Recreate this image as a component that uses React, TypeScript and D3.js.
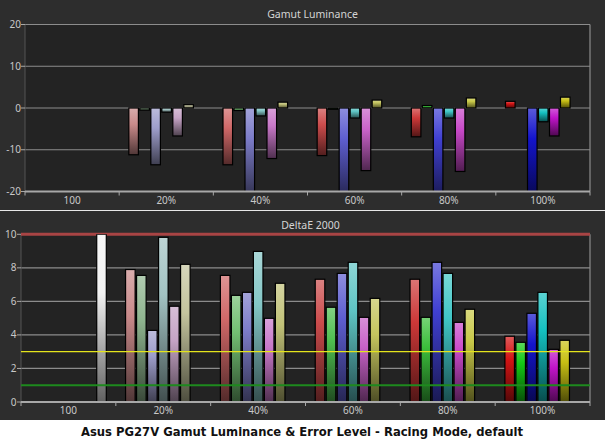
import React from 'react';
import * as d3 from 'd3';

const groups = ['100', '20%', '40%', '60%', '80%', '100%'];
const channels = ['R', 'G', 'B', 'C', 'M', 'Y', 'W'];
const rgbcmy = ['R', 'G', 'B', 'C', 'M', 'Y'];

// Gamut Luminance error per group (R G B C M Y), white only for "100"
const lum100 = [0];
const lum20 = [-11.2, -0.5, -13.6, -1.0, -6.7, 0.8];
const lum40 = [-13.6, -0.6, -21, -1.9, -12.1, 1.4];
const lum60 = [-11.4, -0.3, -21, -2.4, -15.0, 1.9];
const lum80 = [-6.9, 0.6, -21, -2.4, -15.2, 2.4];
const lum100p = [1.6, 0, -21, -3.3, -6.7, 2.6];

// DeltaE 2000 per group
const de100 = [10];
const de20 = [7.9, 7.55, 4.27, 9.82, 5.71, 8.21];
const de40 = [7.55, 6.36, 6.54, 8.98, 4.99, 7.08];
const de60 = [7.32, 5.65, 7.67, 8.33, 5.05, 6.18];
const de80 = [7.32, 5.05, 8.33, 7.67, 4.75, 5.53];
const de100p = [3.92, 3.56, 5.29, 6.54, 3.14, 3.68];

// measured bar colours per group
const col100 = ['#f2f2f2'];
const col20 = ['#c98a8a', '#8fb58f', '#9e9ecb', '#a2c3c3', '#c6a4c6', '#c4c49e'];
const col40 = ['#d06868', '#72be72', '#7c7cc8', '#84c6c6', '#c878c8', '#c2c278'];
const col60 = ['#cc4c4c', '#4fbe4f', '#5e5ed0', '#5ec4c4', '#c862c8', '#c4c45e'];
const col80 = ['#cc3838', '#3cbf3c', '#4040d2', '#40c6c6', '#c848c8', '#c8c848'];
const col100p = ['#d41414', '#14c814', '#1414cc', '#14c0c0', '#c014c8', '#c8c014'];

const lumTicks = [20, 10, 0, -10, -20];
const deTicks = [0, 2, 4, 6, 8, 10];

interface Row { group: string; channel: string; value: number; color: string; }

const buildRows = (vals: number[][], cols: string[][]): Row[] =>
  groups.flatMap((g, gi) => {
    const chs = gi === 0 ? ['W'] : rgbcmy;
    return chs.map((c, ci) => ({ group: g, channel: c, value: vals[gi][ci], color: cols[gi][ci] }));
  });

const colorSets = [col100, col20, col40, col60, col80, col100p];
const lumRows = buildRows([lum100, lum20, lum40, lum60, lum80, lum100p], colorSets);
const deRows = buildRows([de100, de20, de40, de60, de80, de100p], colorSets);

const allColors = Array.from(new Set(colorSets.flat()));
const gradId = (c: string) => 'grad-' + c.slice(1);

const FONT = '"Noto Sans", "Open Sans", sans-serif';
const TXT = '#c8c8c8';
const GRID = '#8c8c8c';

interface PanelProps {
  id: string;
  title: string;
  rows: Row[];
  left: number;
  right: number;
  top: number;
  bottom: number;
  domain: [number, number];
  ticks: number[];
  gridVals: number[];
  titleY: number;
  labelX: number;
  labelY: number;
  children?: (y: d3.ScaleLinear<number, number>) => React.ReactNode;
  overlay?: (y: d3.ScaleLinear<number, number>) => React.ReactNode;
}

const Panel = ({ id, title, rows, left, right, top, bottom, domain, ticks, gridVals, titleY, labelX, labelY, children, overlay }: PanelProps) => {
  const x = d3.scaleBand().domain(groups).range([left, right]);
  const y = d3.scaleLinear().domain(domain).range([bottom, top]);
  const bw = x.bandwidth();
  const inner = d3.scaleBand().domain(channels)
    .range([bw * 0.095, bw * 0.095 + 77])
    .paddingInner(0.13).paddingOuter(0.065);
  const bounds = [...groups.map(g => x(g)!), right];
  return (
    <g>
      <defs>
        <clipPath id={id + '-clip'}>
          <rect x={left} y={top} width={right - left} height={bottom - top} />
        </clipPath>
      </defs>
      <rect x={left} y={top} width={right - left} height={bottom - top} fill="#232323" />
      <text x={(left + right) / 2 + 5} y={titleY} textAnchor="middle" fill="#d4d4d4"
        style={{ font: `10.5px ${FONT}` }}>{title}</text>
      {gridVals.map(v => (
        <line key={v} x1={left} x2={right} y1={y(v)} y2={y(v)} stroke={GRID} strokeWidth={1.2} />
      ))}
      <line x1={right} x2={right} y1={top} y2={bottom} stroke={GRID} strokeWidth={1.2} />
      <line x1={left} x2={left} y1={top} y2={bottom} stroke="#555" strokeWidth={1} />
      {children && children(y)}
      <g clipPath={`url(#${id}-clip)`}>
        {rows.filter(r => r.value !== 0).map(r => {
          const y0 = y(0), y1 = y(r.value);
          return (
            <rect key={r.group + r.channel}
              x={x(r.group)! + inner(r.channel)!}
              y={Math.min(y0, y1)}
              width={inner.bandwidth()}
              height={Math.abs(y1 - y0)}
              fill={`url(#${gradId(r.color)})`}
              stroke="#000" strokeWidth={1.2} />
          );
        })}
      </g>
      {overlay && overlay(y)}
      <line x1={left} x2={right} y1={bottom} y2={bottom} stroke="#a8a8a8" strokeWidth={2} />
      {bounds.map((b, i) => (
        <line key={i} x1={b} x2={b} y1={bottom} y2={bottom + 4} stroke="#a8a8a8" strokeWidth={1} />
      ))}
      {groups.map(g => (
        <text key={g} x={x(g)! + bw / 2} y={labelY} textAnchor="middle" fill={TXT}
          style={{ font: `10px ${FONT}` }}>{g}</text>
      ))}
      {ticks.map(t => (
        <g key={t}>
          <line x1={left - 4} x2={left} y1={y(t)} y2={y(t)} stroke="#a8a8a8" strokeWidth={1} />
          <text x={labelX} y={y(t)} dy="0.35em" textAnchor="end" fill={TXT}
            style={{ font: `10px ${FONT}` }}>{t}</text>
        </g>
      ))}
    </g>
  );
};

export default function App() {
  return (
    <svg width={605} height={441} style={{ position: 'absolute', left: 0, top: 0 }}>
      <defs>
        {allColors.map(c => (
          <linearGradient key={c} id={gradId(c)} x1="0" y1="0" x2="0" y2="1">
            <stop offset="0" stopColor={d3.interpolateRgb(c, '#ffffff')(0.3)} />
            <stop offset="0.35" stopColor={c} />
            <stop offset="1" stopColor={d3.interpolateRgb(c, '#000000')(0.6)} />
          </linearGradient>
        ))}
      </defs>
      <rect x={0} y={0} width={605} height={420} fill="#2d2d2d" />
      <rect x={0} y={420} width={605} height={21} fill="#ffffff" />

      <Panel id="lum" title="Gamut Luminance" rows={lumRows}
        left={25} right={590} top={24.5} bottom={191.5}
        domain={[-20, 20]} ticks={lumTicks} gridVals={[20, 10, 0, -10]}
        titleY={18} labelX={21} labelY={203.5} />

      <line x1={0} x2={605} y1={210.5} y2={210.5} stroke="#e8e8e8" strokeWidth={1.2} />

      <Panel id="de" title="DeltaE 2000" rows={deRows}
        left={21} right={590} top={234.3} bottom={402}
        domain={[0, 10]} ticks={deTicks} gridVals={[2, 4, 6, 8]}
        titleY={229} labelX={16.5} labelY={414}
        children={y => (
          <line x1={21} x2={590} y1={y(10)} y2={y(10)} stroke="#a84444" strokeWidth={3} />
        )}
        overlay={y => (
          <g>
            <line x1={21} x2={590} y1={y(3)} y2={y(3)} stroke="#e4e41c" strokeWidth={1.3} />
            <line x1={21} x2={590} y1={y(1)} y2={y(1)} stroke="#1e8a1e" strokeWidth={2} />
          </g>
        )} />

      <text x={302} y={435.5} textAnchor="middle" fill="#111"
        style={{ font: `bold 11.6px "DejaVu Sans", Verdana, sans-serif` }}>
        Asus PG27V Gamut Luminance &amp; Error Level - Racing Mode, default
      </text>
    </svg>
  );
}
